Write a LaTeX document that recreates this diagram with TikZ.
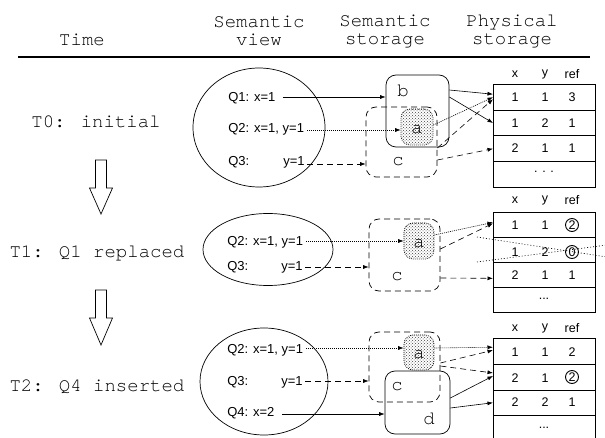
\documentclass[tikz,border=0pt]{standalone}
\usepackage{fontspec}
\setmainfont{Liberation Sans}
\newfontfamily\cour{texgyrecursor-regular.otf}
\usetikzlibrary{arrows.meta,calc,shapes.geometric,patterns}

\begin{document}
\begin{tikzpicture}[x=1pt,y=-1pt,line width=0.7pt,
  big/.style={font=\cour\fontsize{19}{18}\selectfont,inner sep=0},
  sto/.style={font=\cour\fontsize{19}{20}\selectfont,inner sep=0},
  qry/.style={font=\fontsize{13}{15}\selectfont,inner sep=0},
  cell/.style={font=\fontsize{12.5}{14}\selectfont,inner sep=0},
  view/.style={draw,ellipse,inner sep=0},
  solidbox/.style={draw,rounded corners=10pt,inner sep=0},
  dashbox/.style={draw,rounded corners=10pt,inner sep=0,dash pattern=on 6pt off 4pt},
  tuple/.style={draw,rounded corners=9pt,dash pattern=on 0.8pt off 1.2pt,
    pattern=crosshatch dots,pattern color=black!75,inner sep=0},
  row/.style={draw,minimum width=102pt,inner sep=0,anchor=north west},
  circled/.style={cell,draw,circle,line width=0.9pt,minimum size=13pt},
  ptr/.style={-{Latex[length=5.5pt,width=4pt]},line width=0.6pt},
  dotptr/.style={ptr,dash pattern=on 1pt off 1pt},
  dashptr/.style={ptr,dash pattern=on 6pt off 4pt},
  gone/.style={line width=0.6pt,dash pattern=on 1pt off 2pt},
  hollow/.style={line width=0.7pt}
]
\useasboundingbox (0,0) rectangle (605,438);

% ---------- header ----------
\node[big] (htime) at (82,40) {Time};
\node[big,align=center] (hview) at (259,31) {Semantic\\view};
\node[big,align=center] (hsto) at (385,31) {Semantic\\storage};
\node[big,align=center] (hphy) at (512,31) {Physical\\storage};
\draw[line width=1.3pt] (18,57) -- (590,57);

% ---------- time column ----------
\node[big] (t0) at (96,122) {T0: initial};
\node[big] (t1) at (97,253) {T1: Q1 replaced};
\node[big] (t2) at (97,387) {T2: Q4 inserted};
\draw[hollow] (95.5,160) -- (106.5,160) -- (106.5,188) -- (112.5,188) -- (101,214)
  -- (89.5,188) -- (95.5,188) -- cycle;
\draw[hollow] (95.5,290) -- (106.5,290) -- (106.5,318) -- (112.5,318) -- (101,345)
  -- (89.5,318) -- (95.5,318) -- cycle;

% ================= T0 =================
\node[view,minimum width=132pt,minimum height=119pt] (e0) at (259,127.5) {};
\node[qry,anchor=west] (q01) at (228,98) {Q1: x=1};
\node[qry,anchor=west] (q02) at (228,129) {Q2: x=1, y=1};
\node[qry,anchor=west] (q03) at (228,162) {Q3:};
\node[qry,anchor=east] (q03y) at (305,162) {y=1};

\node[dashbox,minimum width=71pt,minimum height=70pt] (c0) at (401.5,142) {};
\node[solidbox,minimum width=63pt,minimum height=72pt] (b0) at (417.5,111) {};
\node[tuple,minimum width=32pt,minimum height=36pt] (a0) at (417,127) {};
\node[sto] (lb0) at (403,91) {b};
\node[sto] (la0) at (417,130) {a};
\node[sto] (lc0) at (398,162) {c};

\node[row,minimum height=25.75pt] (r01) at (493,84) {};
\node[row,minimum height=25.75pt] (r02) at (493,109.75) {};
\node[row,minimum height=25.75pt] (r03) at (493,135.5) {};
\node[row,minimum height=25.75pt] (r04) at (493,161.25) {};
\node[cell] (h0x) at (515,74) {x};
\node[cell] (h0y) at (545,74) {y};
\node[cell] (h0r) at (572,74) {ref};
\node[cell] at (515,97) {1};  \node[cell] at (545,97) {1};  \node[cell] at (572,97) {3};
\node[cell] at (515,123) {1}; \node[cell] at (545,123) {2}; \node[cell] at (572,123) {1};
\node[cell] at (515,148) {2}; \node[cell] at (545,148) {1}; \node[cell] at (572,148) {1};
\node[cell] at (544,172) {. . .};

\draw[ptr] ($(q01.east)+(7,-1)$) -- (b0.west |- {$(q01.east)+(7,-1)$});
\draw[dotptr] ($(q02.east)+(3,1)$) -- (a0.west |- {$(q02.east)+(3,1)$});
\draw[dashptr] ($(q03y.east)+(2,2)$) -- (c0.west |- {$(q03y.east)+(2,2)$});
\draw[ptr] ($(b0.east)+(0,-21)$) -- ($(r01.west)+(0,-3)$);
\draw[ptr] ($(b0.east)+(0,-14)$) -- (r02.west);
\draw[dotptr] ($(a0.east)+(0,-2)$) -- ($(r01.west)+(0,0)$);
\draw[dashptr] ($(c0.east)+(0,6)$) -- ($(r01.west)+(0,2)$);
\draw[dashptr] ($(c0.east)+(0,18)$) -- (r03.west);

% ================= T1 =================
\node[view,minimum width=130pt,minimum height=72pt] (e1) at (268,249.5) {};
\node[qry,anchor=west] (q12) at (227,242) {Q2: x=1, y=1};
\node[qry,anchor=west] (q13) at (227,267) {Q3:};
\node[qry,anchor=east] (q13y) at (303,267) {y=1};

\node[dashbox,minimum width=71pt,minimum height=72pt] (c1) at (404.5,255) {};
\node[tuple,minimum width=30pt,minimum height=36pt] (a1) at (419,241) {};
\node[sto] (la1) at (419,244) {a};
\node[sto] (lc1) at (397,277) {c};

\node[row,minimum height=25pt] (r11) at (493,212) {};
\node[row,minimum height=25pt] (r12) at (493,237) {};
\node[row,minimum height=25pt] (r13) at (493,262) {};
\node[row,minimum height=25pt] (r14) at (493,287) {};
\node[cell] (h1x) at (515,200) {x};
\node[cell] (h1y) at (545,200) {y};
\node[cell] (h1r) at (572,200) {ref};
\node[cell] at (515,225) {1}; \node[cell] at (545,225) {1}; \node[circled] (k11) at (572,225) {2};
\node[cell] at (515,252) {1}; \node[cell] at (545,252) {2}; \node[circled] (k12) at (572,252) {0};
\node[cell] at (515,275) {2}; \node[cell] at (545,275) {1}; \node[cell] at (572,275) {1};
\node[cell] at (544,299) {...};

\coordinate (x1a) at (477,237);
\coordinate (x1b) at (607,257);
\coordinate (x2a) at (477,262);
\coordinate (x2b) at (607,245);
\draw[gone] (x1a) -- (x1b);
\draw[gone] (x2a) -- (x2b);

\draw[dotptr] ($(q12.east)+(3,-1)$) -- (a1.west |- {$(q12.east)+(3,-1)$});
\draw[dashptr] ($(q13y.east)+(2,0)$) -- (c1.west |- {$(q13y.east)+(2,0)$});
\draw[dotptr] ($(a1.east)+(0,-6)$) -- ($(r11.west)+(0,-2.5)$);
\draw[dashptr] ($(c1.east)+(0,-6)$) -- ($(r11.west)+(0,-1.5)$);
\draw[dashptr] ($(c1.east)+(0,23)$) -- ($(r13.west)+(0,3.5)$);

% ================= T2 =================
\node[view,minimum width=128pt,minimum height=107pt] (e2) at (264,381.5) {};
\node[qry,anchor=west] (q22) at (227,350) {Q2: x=1, y=1};
\node[qry,anchor=west] (q23) at (227,382) {Q3:};
\node[qry,anchor=east] (q23y) at (303,382) {y=1};
\node[qry,anchor=west] (q24) at (227,413) {Q4: x=2};

\node[dashbox,minimum width=71pt,minimum height=70pt] (c2) at (404.5,367) {};
\node[tuple,minimum width=30pt,minimum height=35pt] (a2) at (419,352.5) {};
\node[solidbox,minimum width=65pt,minimum height=63pt] (d2) at (417.5,402.5) {};
\node[sto] (la2) at (419,355) {a};
\node[sto] (lc2) at (397,387) {c};
\node[sto] (ld2) at (429,419) {d};

\node[row,minimum height=25.75pt] (r21) at (493,338) {};
\node[row,minimum height=25.75pt] (r22) at (493,363.75) {};
\node[row,minimum height=25.75pt] (r23) at (493,389.5) {};
\node[row,minimum height=25.75pt] (r24) at (493,415.25) {};
\node[cell] (h2x) at (515,328) {x};
\node[cell] (h2y) at (545,328) {y};
\node[cell] (h2r) at (572,328) {ref};
\node[cell] at (515,352) {1}; \node[cell] at (545,352) {1}; \node[cell] at (572,352) {2};
\node[cell] at (515,378) {2}; \node[cell] at (545,378) {1}; \node[circled] (k22) at (572,377) {2};
\node[cell] at (515,402) {2}; \node[cell] at (545,402) {2}; \node[cell] at (572,402) {1};
\node[cell] at (544,428) {...};

\draw[dotptr] ($(q22.east)+(3,-2)$) -- (a2.west |- {$(q22.east)+(3,-2)$});
\draw[dashptr] ($(q23y.east)+(2,-1)$) -- (c2.west |- {$(q23y.east)+(2,-1)$});
\draw[ptr] ($(q24.east)+(7,1)$) -- (d2.west |- {$(q24.east)+(7,1)$});
\draw[dotptr] ($(a2.east)+(0,-4.5)$) -- ($(r21.west)+(0,-4)$);
\draw[dashptr] ($(c2.east)+(0,-4)$) -- ($(r21.west)+(0,-1)$);
\draw[dashptr] ($(c2.east)+(0,-1)$) -- ($(r22.west)+(0,-4)$);
\draw[ptr] ($(d2.east)+(0,-4.5)$) -- ($(r22.west)+(0,-1)$);
\draw[ptr] ($(d2.east)+(0,5.5)$) -- (r23.west);
\end{tikzpicture}
\end{document}
